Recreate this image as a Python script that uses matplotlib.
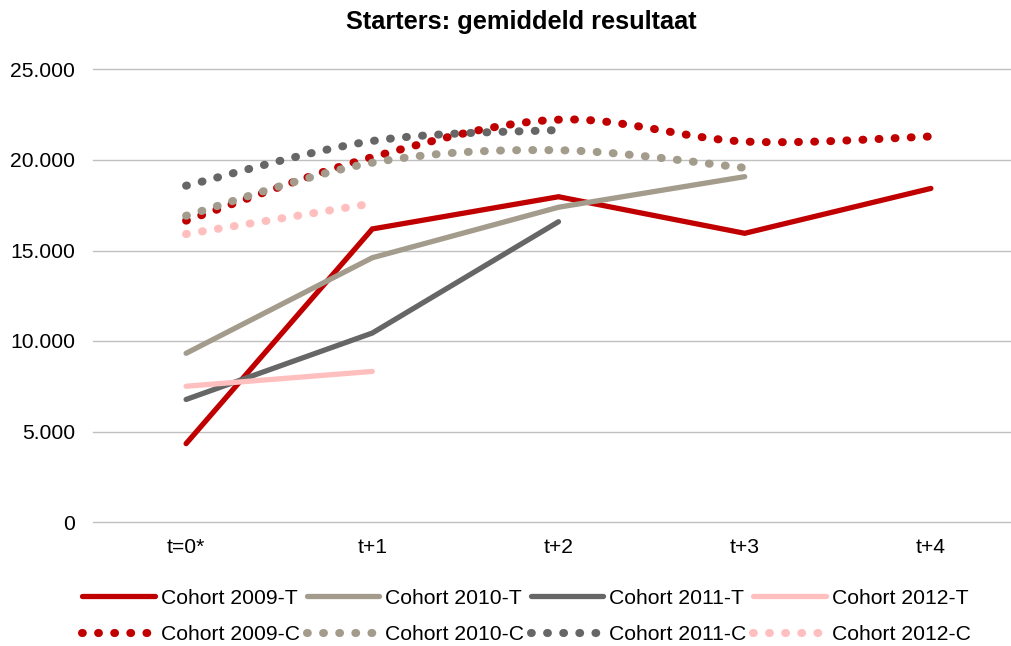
import numpy as np
import matplotlib.pyplot as plt
from matplotlib.ticker import FuncFormatter

plt.rcParams['font.family'] = ['Liberation Sans', 'DejaVu Sans']

# categories on the x axis
cats = ['t=0*', 't+1', 't+2', 't+3', 't+4']

# trajectory series (T), straight lines
t2009 = [4330, 16190, 17970, 15950, 18430]
t2010 = [9320, 14600, 17390, 19080]
t2011 = [6770, 10440, 16590]
t2012 = [7500, 8320]

# comparison series (C), smoothed dotted lines
c2009 = [16650, 20160, 22230, 21020, 21300]
c2010 = [16920, 19850, 20540, 19570]
c2011 = [18580, 21050, 21660]
c2012 = [15910, 17600]

names = ['Cohort 2009', 'Cohort 2010', 'Cohort 2011', 'Cohort 2012']
colors = ['#C00000', '#A39B8B', '#666666', '#FFBFBF']


def smooth(y, n=40):
    # Excel-like smoothed line: cubic bezier through the points
    x = np.arange(len(y), dtype=float)
    y = np.asarray(y, dtype=float)
    px = np.concatenate([[x[0]], x, [x[-1]]])
    py = np.concatenate([[y[0]], y, [y[-1]]])
    pts = np.column_stack([px, py])
    xs, ys = [], []
    s = np.linspace(0, 1, n)[:, None]
    for i in range(len(y) - 1):
        p0 = pts[i + 1]
        p3 = pts[i + 2]
        c1 = p0 + (pts[i + 2] - pts[i]) / 6
        c2 = p3 - (pts[i + 3] - pts[i + 1]) / 6
        b = (1 - s) ** 3 * p0 + 3 * (1 - s) ** 2 * s * c1 + 3 * (1 - s) * s ** 2 * c2 + s ** 3 * p3
        if i > 0:
            b = b[1:]
        xs.append(b[:, 0])
        ys.append(b[:, 1])
    return np.concatenate(xs), np.concatenate(ys)


fig = plt.figure(figsize=(10.11, 6.46), dpi=100)
ax = fig.add_axes([93 / 1011, 124 / 646, 931 / 1011, 452.5 / 646])

handles = {}
for name, col, vals in zip(names, colors, [t2009, t2010, t2011, t2012]):
    h, = ax.plot(range(len(vals)), vals, color=col, lw=3.8, solid_capstyle='round',
                 solid_joinstyle='miter', label=name + '-T')
    handles[name + '-T'] = h

for name, col, vals in zip(names, colors, [c2009, c2010, c2011, c2012]):
    sx, sy = smooth(vals)
    h, = ax.plot(sx, sy, color=col, lw=5.8, linestyle=(0, (0.1, 1.9)),
                 dash_capstyle='round', label=name + '-C')
    handles[name + '-C'] = h

ax.set_xlim(-0.5, 4.5)
ax.set_ylim(0, 25000)
ax.set_yticks([0, 5000, 10000, 15000, 20000, 25000])
ax.yaxis.set_major_formatter(FuncFormatter(lambda v, p: f'{int(v):,}'.replace(',', '.')))
ax.set_xticks(range(len(cats)))
ax.set_xticklabels(cats)
ax.tick_params(axis='y', length=0, pad=13, labelsize=15.2)
ax.tick_params(axis='x', length=0, pad=11.5, labelsize=15.2)
ax.grid(axis='y', color='#C0C0C0', lw=1.0)
for gl in ax.get_ygridlines():
    gl.set_clip_on(False)
ax.set_axisbelow(True)
for sp in ax.spines.values():
    sp.set_visible(False)

fig.text(521 / 1011, 1 - 22 / 646, 'Starters: gemiddeld resultaat', ha='center', va='center',
         fontsize=18.3, fontweight='bold')

order = []
for name in names:
    order += [name + '-T', name + '-C']
fig.legend([handles[k] for k in order], order, loc='center', ncol=4,
           bbox_to_anchor=(526.5 / 1011, 1 - 616.5 / 646), frameon=False,
           fontsize=15.2, handlelength=3.45, handletextpad=0.28, columnspacing=0.3,
           labelspacing=0.84, borderpad=0, borderaxespad=0)

fig.savefig('out.png', dpi=100)
